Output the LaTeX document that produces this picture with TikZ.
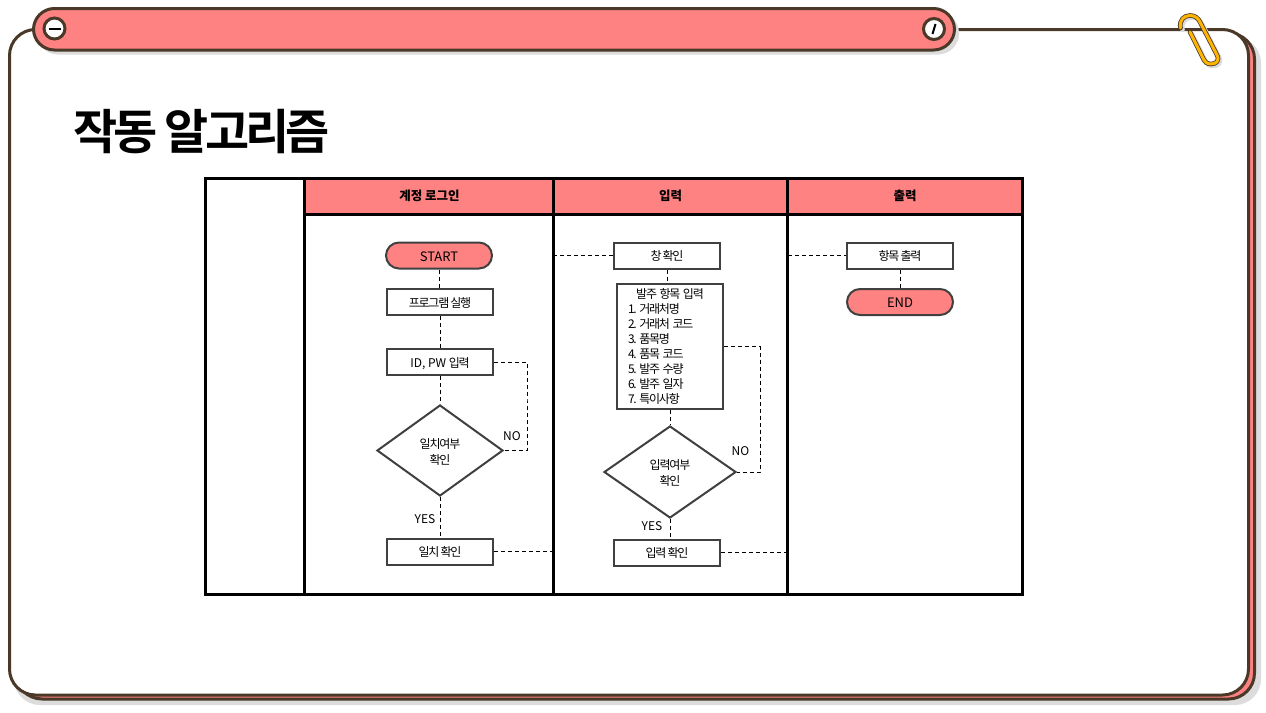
\documentclass[tikz,border=0pt]{standalone}
\usepackage{fontspec}
\setmainfont{Noto Sans CJK KR}
\newfontfamily\tightfont[LetterSpace=-10,WordSpace=0.7]{Noto Sans CJK KR}
\newfontfamily\titlefont[LetterSpace=-8,BoldFont={Noto Sans CJK KR Bold}]{Noto Sans CJK KR}
\frenchspacing
\usetikzlibrary{shapes.geometric,shapes.misc}
\definecolor{brn}{HTML}{4A3828}
\definecolor{pnk}{HTML}{FF8282}
\definecolor{shd}{HTML}{DCDCDC}
\definecolor{nodeline}{HTML}{404040}
\definecolor{clipcol}{HTML}{FFB400}
\tikzset{
  x=1pt,y=-1pt,
  box/.style={draw=nodeline,line width=2pt,fill=white,minimum width=106pt,minimum height=26pt,inner sep=0pt,font=\tightfont\fontsize{12}{14}\selectfont},
  single/.style={text height=11.6pt,text depth=0.8pt},
  sbox/.style={box,single},
  pill/.style={box,text height=12.6pt,text depth=0.8pt,fill=pnk,rounded rectangle},
  deci/.style={diamond,draw=nodeline,line width=2pt,fill=white,inner sep=0pt,aspect=1.4,align=center,font=\tightfont\fontsize{12}{16}\selectfont},
  dashline/.style={draw=black,line width=0.9pt,dash pattern=on 4pt off 3pt},
  lab/.style={inner sep=0pt,font=\fontsize{12}{14}\selectfont},
  head/.style={inner sep=0pt,font=\bfseries\fontsize{12.5}{14}\selectfont},
  frame/.style={draw=black,line width=3pt},
  card/.style={line width=3pt,draw=brn},
  clipline/.style={line join=round,line cap=round},
}
\begin{document}
\begin{tikzpicture}
\useasboundingbox (0,0) rectangle (1266,712);
% card
\fill[shd] (14,37) [rounded corners=26pt] rectangle (1261,705);
\draw[card,fill=pnk,rounded corners=26pt] (16,33) rectangle (1254.5,699);
\draw[card,fill=white,rounded corners=26pt] (9.5,29.5) rectangle (1248.5,695);
% top bar
\fill[shd,rounded corners=21pt] (37,12) rectangle (959,54.5);
\draw[card,fill=pnk,rounded corners=21pt] (33.5,8.5) rectangle (954.5,50);
\node[circle,draw=brn,line width=3pt,fill=white,minimum size=21pt,inner sep=0pt] (c1) at (54.5,28.5) {};
\node[circle,draw=brn,line width=3pt,fill=white,minimum size=21pt,inner sep=0pt] (c2) at (934,29) {};
\draw[line width=2pt,black] ([xshift=-6pt]c1.center) -- ([xshift=6pt]c1.center);
\draw[line width=2pt,black] ([shift={(1.5pt,5pt)}]c2.center) -- ([shift={(-1.5pt,-5pt)}]c2.center);
% paper clip
\def\clipshape{(1180.5,28) .. controls (1179,20) and (1184,15.5) .. (1190,15.5) .. controls (1195,15.5) and (1198,18) .. (1200,22) -- (1217,55) .. controls (1220,61) and (1216,64) .. (1211,64) .. controls (1207,64) and (1205,62) .. (1204,60) -- (1190,32)}
\draw[clipline,shd,line width=4.5pt,xshift=2pt,yshift=-2pt] \clipshape;
\draw[clipline,brn,line width=4.6pt] \clipshape;
\draw[clipline,clipcol,line width=3pt] \clipshape;
% title
\node[anchor=base west,inner sep=0pt,font=\titlefont\bfseries\fontsize{48}{52}\selectfont] (title) at (73,149) {작동 알고리즘};
% table
\fill[pnk] (304,178) rectangle (1023,214);
\draw[frame] (205.5,178.5) rectangle (1022.5,594);
\draw[frame] (304,178.5) -- (304,594);
\draw[frame] (553.5,178.5) -- (553.5,594);
\draw[frame] (787.5,178.5) -- (787.5,594);
\draw[frame] (304,214) -- (1022.5,214);
\node[head] (h1) at (429.5,196) {계정 로그인};
\node[head] (h2) at (670.5,196) {입력};
\node[head] (h3) at (905,196) {출력};
% free ends on the lane borders
\coordinate (lane1a) at (553,255.5);
\coordinate (lane1b) at (553,551.5);
\coordinate (lane2a) at (788,255.5);
\coordinate (lane2b) at (788,552.5);
\coordinate (back1) at (527,400);
\coordinate (back2) at (760,400);
% lane 1
\node[pill,font=\rmfamily\fontsize{13}{15}\selectfont] (start) at (439,255.5) {START};
\node[sbox] (prog) at (440,302) {프로그램 실행};
\node[sbox] (idpw) at (440,362) {{\rmfamily ID, PW }입력};
\node[deci,minimum width=126pt,minimum height=91pt] (chk1) at (440,450.5) {\rule{0pt}{12.5pt}일치여부\\확인};
\node[sbox] (ok1) at (440,551.5) {일치 확인};
% lane 2
\node[sbox] (win) at (667,255.5) {창 확인};
\node[box,minimum height=125pt,text width=84pt,align=left,font=\tightfont\fontsize{12}{15.1}\selectfont] (form) at (670,346.5)
  {\spaceskip=2.5pt\relax\makebox[84pt][c]{발주 항목 입력}\\1. 거래처명\\2. 거래처 코드\\3. 품목명\\4. 품목 코드\\5. 발주 수량\\6. 발주 일자\\7. 특이사항};
\node[deci,minimum width=132pt,minimum height=92pt] (chk2) at (670,472) {\rule{0pt}{12.5pt}입력여부\\확인};
\node[sbox] (ok2) at (667,552.5) {입력 확인};
% lane 3
\node[sbox] (out) at (900,255.5) {항목 출력};
\node[pill,font=\rmfamily\fontsize{13}{15}\selectfont] (endn) at (900,302) {END};
% connectors
\draw[dashline] (start.south) -- (start.south |- prog.north);
\draw[dashline] (prog.south) -- (idpw.north);
\draw[dashline] (idpw.south) -- (chk1.north);
\draw[dashline] (chk1.south) -- (ok1.north);
\draw[dashline] (idpw.east) -| (back1) |- (chk1.east);
\draw[dashline] (ok1.east) -- (lane1b);
\draw[dashline] (lane1a) -- (win.west);
\draw[dashline] (win.south) -- (win.south |- form.north);
\draw[dashline] (form.south) -- (form.south |- chk2.north);
\draw[dashline] (chk2.south) -- (chk2.south |- ok2.north);
\draw[dashline] (form.east) -| (back2) |- (chk2.east);
\draw[dashline] (ok2.east) -- (lane2b);
\draw[dashline] (lane2a) -- (out.west);
\draw[dashline] (out.south) -- (endn.north);
% labels
\node[lab] (no1) at (512,436) {NO};
\node[lab] (yes1) at (425,519) {YES};
\node[lab] (no2) at (740.5,451) {NO};
\node[lab] (yes2) at (652,526) {YES};
\end{tikzpicture}
\end{document}
